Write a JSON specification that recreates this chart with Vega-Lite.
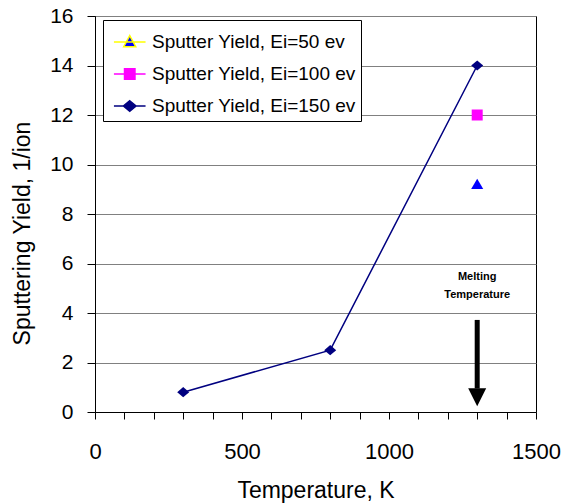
{
  "$schema": "https://vega.github.io/schema/vega-lite/v6.json",
  "width": 441,
  "height": 396,
  "autosize": "none",
  "padding": {"left": 95, "top": 16, "right": 32, "bottom": 92},
  "background": "white",
  "config": {
    "font": "Liberation Sans",
    "view": {"stroke": "black", "strokeWidth": 1},
    "axis": {"labelColor": "black", "titleColor": "black", "domainColor": "black", "tickColor": "black", "labelFont": "Liberation Sans", "titleFont": "Liberation Sans", "titleFontWeight": "normal"}
  },
  "datasets": {
    "yield": [
      {"T": 300, "Y": 0.8, "series": "Sputter Yield, Ei=150 ev"},
      {"T": 800, "Y": 2.5, "series": "Sputter Yield, Ei=150 ev"},
      {"T": 1300, "Y": 14, "series": "Sputter Yield, Ei=150 ev"},
      {"T": 1300, "Y": 12, "series": "Sputter Yield, Ei=100 ev"},
      {"T": 1300, "Y": 9.2, "series": "Sputter Yield, Ei=50 ev"}
    ],
    "note": [
      {"T": 1300, "Y": 5.45, "text": "Melting"},
      {"T": 1300, "Y": 4.73, "text": "Temperature"}
    ],
    "arrow": [
      {"T": 1300, "Y": 3.72, "Y2": 0.95}
    ],
    "head": [
      {"T": 1300, "Y": 0.6}
    ]
  },
  "encoding": {
    "x": {"field": "T", "type": "quantitative", "scale": {"domain": [0, 1500], "nice": false},
      "axis": {"title": "Temperature, K", "values": [0,100,200,300,400,500,600,700,800,900,1000,1100,1200,1300,1400,1500],
        "format": "d",
        "labelExpr": "datum.value % 500 === 0 ? datum.label : ''", "grid": false, "tickSize": 7, "labelFontSize": 22,
        "labelBaseline": "alphabetic", "labelPadding": 39, "labelFlush": false, "labelOverlap": false,
        "titleFontSize": 23, "titleBaseline": "alphabetic", "titleY": 85}},
    "y": {"field": "Y", "type": "quantitative", "scale": {"domain": [0, 16], "nice": false},
      "axis": {"title": "Sputtering Yield, 1/ion", "values": [0,2,4,6,8,10,12,14,16], "grid": true, "gridColor": "#808080",
        "gridOpacity": 1, "tickSize": 8, "labelFontSize": 21, "labelPadding": 14, "labelFlush": false,
        "titleFontSize": 23, "titleX": -61, "titleY": 217}}
  },
  "layer": [
    {
      "data": {"name": "yield"},
      "transform": [{"filter": "datum.series === 'Sputter Yield, Ei=150 ev'"}],
      "mark": {"type": "line", "color": "#000080", "strokeWidth": 1.5}
    },
    {
      "data": {"name": "yield"},
      "mark": {"type": "point", "filled": true, "size": 110, "opacity": 0},
      "encoding": {
        "color": {"field": "series", "type": "nominal",
          "scale": {"domain": ["Sputter Yield, Ei=50 ev", "Sputter Yield, Ei=100 ev", "Sputter Yield, Ei=150 ev"], "range": ["#0000FF", "#FF00FF", "#000080"]},
          "legend": {"title": null, "orient": "none", "legendX": 8, "legendY": 4, "strokeColor": "black", "fillColor": "white",
            "padding": 5, "labelFontSize": 19, "labelColor": "black", "labelFont": "Liberation Sans", "labelOffset": 10, "labelLimit": 400,
            "symbolSize": 1000, "rowPadding": 5, "symbolOpacity": 1,
            "encode": {"symbols": {"update": {
              "shape": {"signal": "indexof(datum.value, '=50 ') >= 0 ? 'M-0.7,0H1.3M0.3,-0.4L0.68,0.3L-0.08,0.3Z' : indexof(datum.value, '=100 ') >= 0 ? 'M-0.7,0H1.3M-0.03,-0.33H0.63V0.33H-0.03Z' : 'M-0.7,0H1.3M0.3,-0.33L0.7,0L0.3,0.33L-0.1,0Z'"},
              "stroke": {"signal": "indexof(datum.value, '=50 ') >= 0 ? '#FFFF00' : indexof(datum.value, '=100 ') >= 0 ? '#FF00FF' : '#000080'"},
              "fill": {"signal": "indexof(datum.value, '=50 ') >= 0 ? '#0000FF' : indexof(datum.value, '=100 ') >= 0 ? '#FF00FF' : '#000080'"},
              "strokeWidth": {"value": 1.5},
              "opacity": {"value": 1},
              "fillOpacity": {"value": 1},
              "strokeOpacity": {"value": 1}
            }}}}}
      }
    },
    {
      "data": {"name": "yield"},
      "transform": [{"filter": "datum.series === 'Sputter Yield, Ei=150 ev'"}],
      "mark": {"type": "point", "filled": true, "size": 144, "opacity": 1, "shape": "M0,-0.85L1,0L0,0.85L-1,0Z", "color": "#000080"}
    },
    {
      "data": {"name": "yield"},
      "transform": [{"filter": "datum.series === 'Sputter Yield, Ei=100 ev'"}],
      "mark": {"type": "point", "filled": true, "size": 121, "opacity": 1, "shape": "square", "color": "#FF00FF"}
    },
    {
      "data": {"name": "yield"},
      "transform": [{"filter": "datum.series === 'Sputter Yield, Ei=50 ev'"}],
      "mark": {"type": "point", "filled": true, "size": 121, "opacity": 1, "shape": "M0,-1L1.1,0.85L-1.1,0.85Z", "color": "#0000FF"}
    },
    {
      "data": {"name": "arrow"},
      "mark": {"type": "rule", "color": "black", "strokeWidth": 5},
      "encoding": {"y2": {"field": "Y2"}}
    },
    {
      "data": {"name": "head"},
      "mark": {"type": "point", "filled": true, "color": "black", "opacity": 1, "shape": "M-1,-1L1,-1L0,1Z", "size": 324}
    },
    {
      "data": {"name": "note"},
      "mark": {"type": "text", "fontWeight": "bold", "fontSize": 11, "color": "black", "align": "center", "baseline": "middle"},
      "encoding": {"text": {"field": "text"}}
    }
  ]
}
